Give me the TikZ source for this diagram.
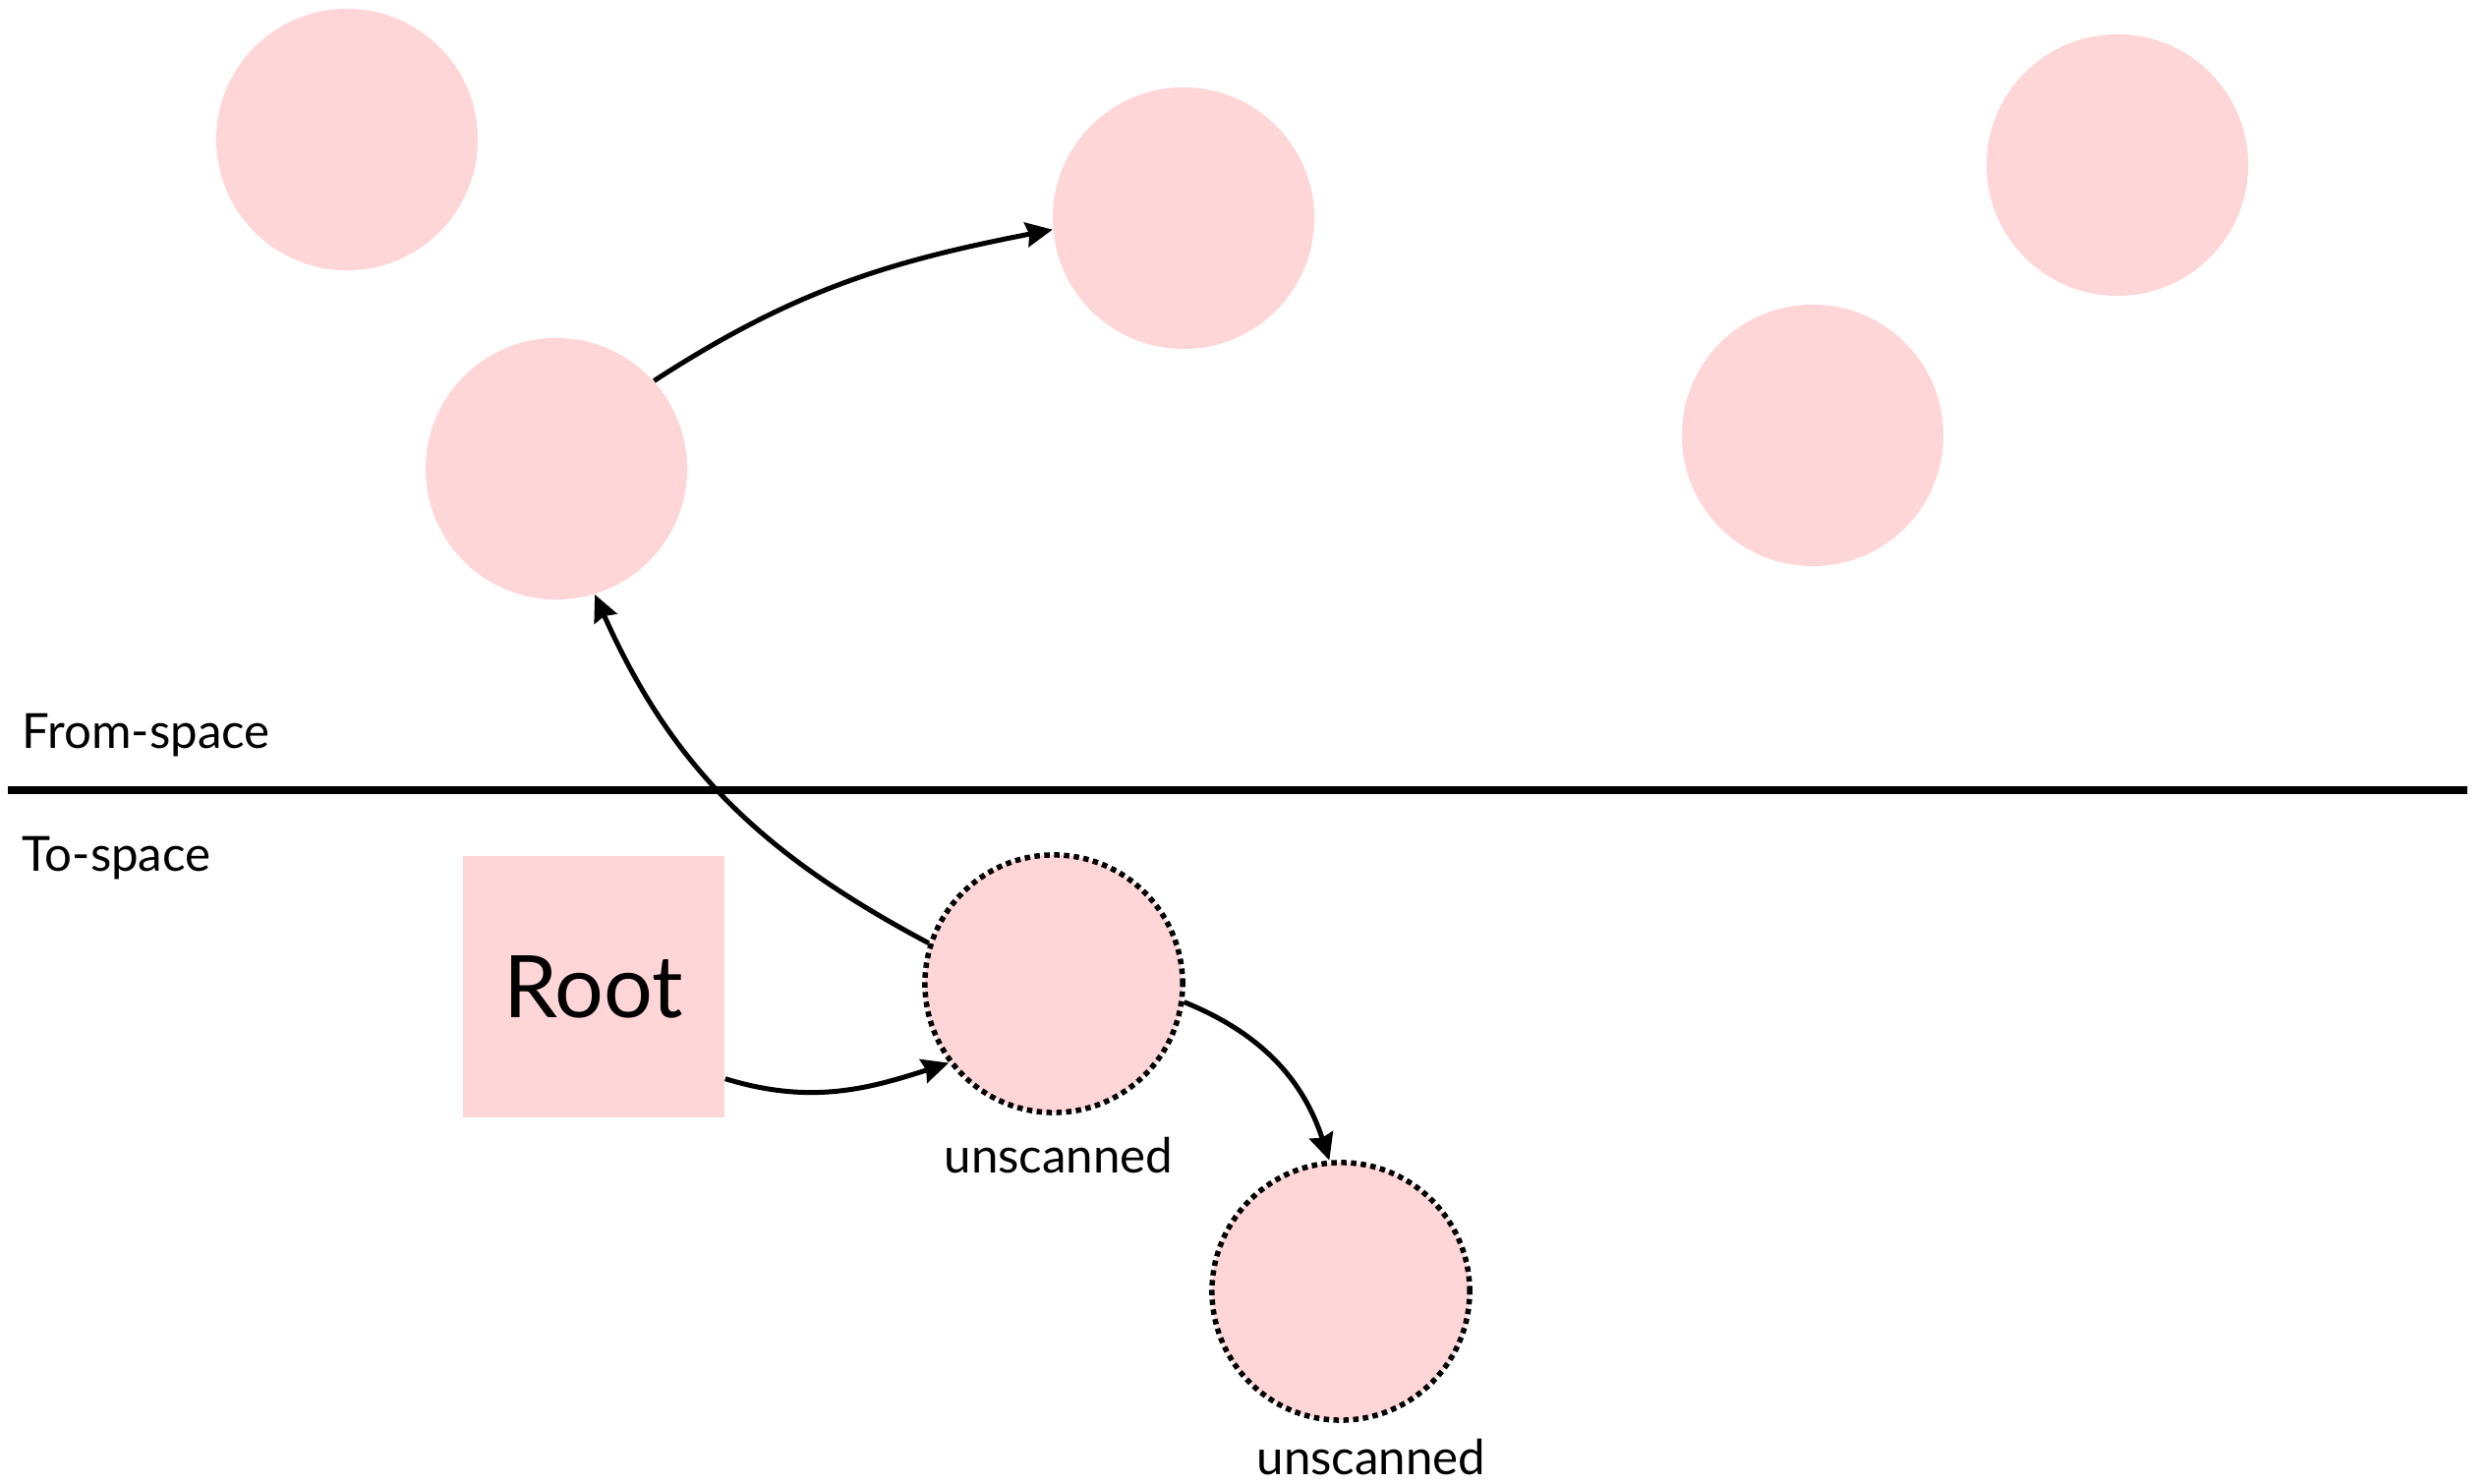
\documentclass[tikz,border=0pt]{standalone}
\usepackage{fontspec}
\setmainfont{Lato}
\usetikzlibrary{arrows.meta}
\definecolor{objfill}{RGB}{255,214,215}
\begin{document}
\begin{tikzpicture}[x=0.01cm,y=0.01cm,
  obj/.style={circle, fill=objfill, minimum size=2.66cm, inner sep=0pt},
  unscannedobj/.style={circle, fill=objfill, minimum size=2.62cm, inner sep=0pt,
    draw=black, line width=0.055cm, dash pattern=on 0.055cm off 0.045cm},
  rootbox/.style={rectangle, fill=objfill, minimum size=2.66cm, inner sep=0pt,
    font=\fontsize{25}{30}\selectfont},
  ptr/.style={line width=0.05cm, -{Stealth[length=0.27cm, width=0.25cm, inset=0.03cm]}},
  spacelabel/.style={anchor=base west, inner sep=0pt, font=\fontsize{14}{16}\selectfont},
  statelabel/.style={anchor=base, inner sep=0pt, font=\fontsize{14}{16}\selectfont},
  divider/.style={line width=0.08cm}]

\useasboundingbox (0,0) rectangle (2528,1510);

% from-space objects
\node[obj] (a) at (353,1368) {};
\node[obj] (b) at (1204,1288) {};
\node[obj] (c) at (2154,1342) {};
\node[obj] (d) at (1844,1067) {};
\node[obj] (e) at (566,1033) {};

% semispace boundary
\coordinate (divl) at (8,705.5);
\coordinate (divr) at (2510,705.5);
\draw[divider] (divl) -- (divr);
\node[spacelabel] (fromlbl) at (22,748) {From-space};
\node[spacelabel] (tolbl) at (22,623) {To-space};

% to-space: root and copied objects
\node[rootbox] (root) at (604,506) {Root};
\node[unscannedobj] (f) at (1072,509) {};
\node[unscannedobj] (g) at (1364,196) {};
\node[statelabel] (uf) at (1077,316) {unscanned};
\node[statelabel] (ug) at (1395,9) {unscanned};

% pointers
\draw[ptr] (e.42) to[out=33, in=191] (b.185);
\draw[ptr] (f.162) to[out=152, in=-66] (e.-73);
\draw[ptr] (root.-35) to[out=-17, in=198] (f.217);
\draw[ptr] (f.-8) to[out=-22, in=108] (g.95);
\end{tikzpicture}
\end{document}
